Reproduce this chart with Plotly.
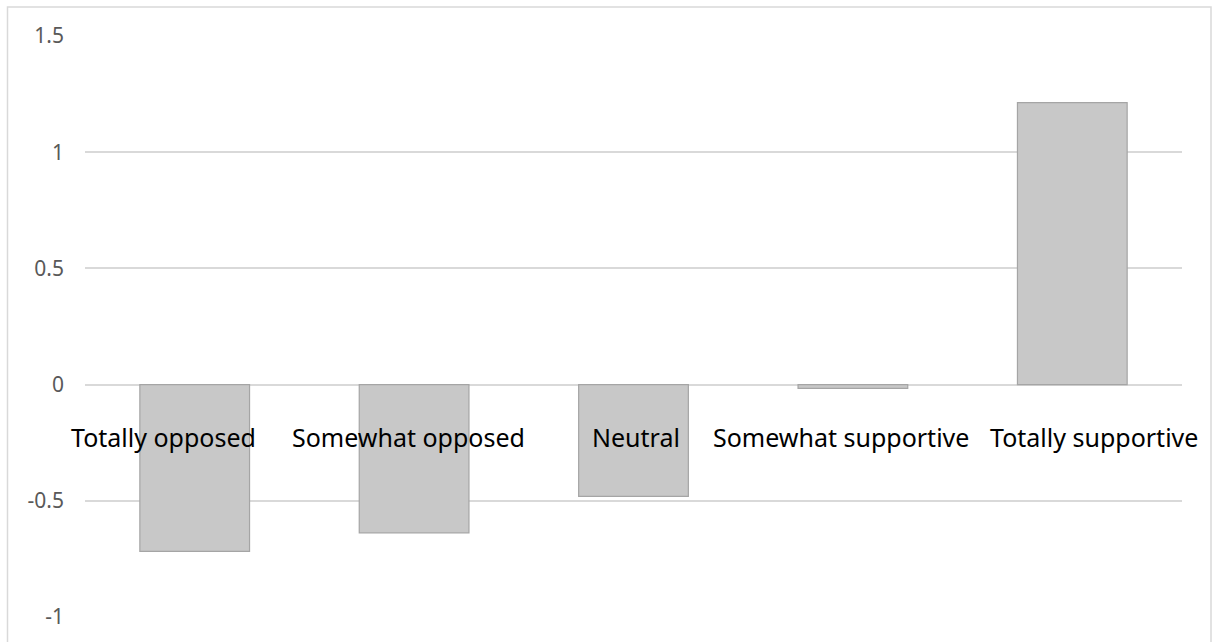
import plotly.graph_objects as go

categories = ["Totally opposed", "Somewhat opposed", "Neutral", "Somewhat supportive", "Totally supportive"]
values = [-0.718, -0.638, -0.481, -0.016, 1.213]
y_ticks = [-1, -0.5, 0, 0.5, 1, 1.5]
y_tick_labels = ["-1", "-0.5", "0", "0.5", "1", "1.5"]

# layout / styling (pixel offsets of the category labels, as Excel spread them)
label_xshift = [-31, -6, 2, -12, 22]

W, H = 1218, 642
L, R, T, B = 85, 36, 36, 25
pw = W - L - R
ph = H - T - B

fig = go.Figure()
fig.add_trace(go.Bar(
    x=categories, y=values,
    marker=dict(color="#c8c8c8", line=dict(color="#a5a5a5", width=1.2)),
    hoverinfo="x+y",
))

for c, dx in zip(categories, label_xshift):
    fig.add_annotation(x=c, y=0, xref="x", yref="y", text=c, showarrow=False,
                       yshift=-52, xshift=dx, yanchor="middle", xanchor="center",
                       font=dict(family="Noto Sans", size=25, color="#000000"))


def px_to_paper_x(px):
    return (px - L) / pw


def px_to_paper_y(py):
    return (H - B - py) / ph


# outer chart border (light gray)
fig.add_shape(type="rect", xref="paper", yref="paper",
              x0=px_to_paper_x(7.5), x1=px_to_paper_x(1211),
              y0=px_to_paper_y(660), y1=px_to_paper_y(7),
              line=dict(color="#d9d9d9", width=1.5), fillcolor="rgba(0,0,0,0)", layer="below")

fig.update_layout(
    width=W, height=H,
    margin=dict(l=L, r=R, t=T, b=B, pad=0),
    paper_bgcolor="#ffffff", plot_bgcolor="#ffffff",
    bargap=0.5,
    showlegend=False,
    xaxis=dict(type="category", range=[-0.5, len(categories) - 0.5], autorange=False,
               showticklabels=False, showgrid=False, zeroline=False, showline=False, ticks=""),
    yaxis=dict(range=[-1, 1.5], autorange=False, tickvals=y_ticks, ticktext=y_tick_labels,
               showgrid=True, gridcolor="#d9d9d9", gridwidth=1.5,
               zeroline=False, showline=False, ticks="",
               ticklabelstandoff=20,
               tickfont=dict(family="Noto Sans", size=21, color="#595959")),
)

fig.write_html("out.html")
